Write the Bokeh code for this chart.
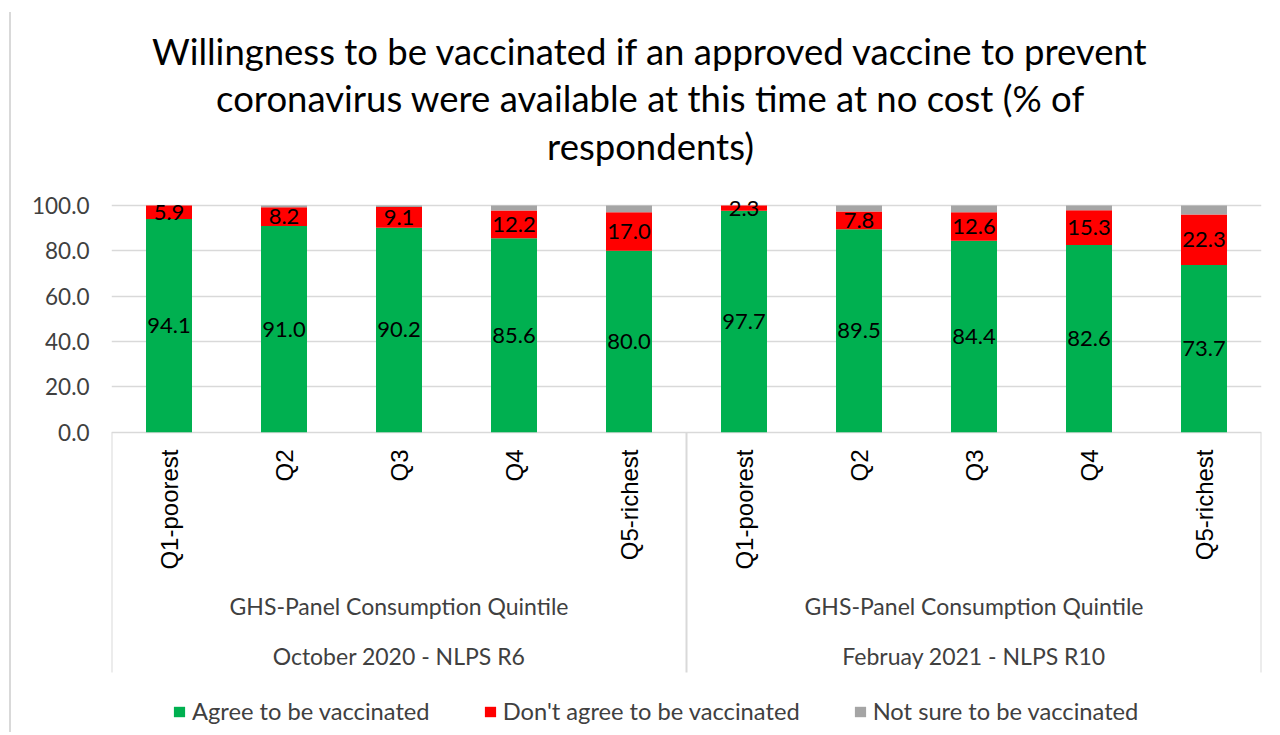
import math
from bokeh.plotting import figure
from bokeh.models import (FactorRange, Range1d, ColumnDataSource, FixedTicker,
                          NumeralTickFormatter, Legend, LegendItem)
from bokeh.core.properties import value
from bokeh.embed import file_html
from bokeh.resources import INLINE

# ---------------- data ----------------
title_lines = ["Willingness to be vaccinated if an approved vaccine to prevent",
               "coronavirus were available at this time at no cost (% of",
               "respondents)"]
rounds = ["October 2020 - NLPS R6", "Februay 2021 - NLPS R10"]
subgroup_label = "GHS-Panel Consumption Quintile"
quintiles = ["Q1-poorest", "Q2", "Q3", "Q4", "Q5-richest"]
series_names = ["Agree to be vaccinated", "Don't agree to be vaccinated",
                "Not sure to be vaccinated"]
agree_r6 = [94.1, 91.0, 90.2, 85.6, 80.0]
disagree_r6 = [5.9, 8.2, 9.1, 12.2, 17.0]
notsure_r6 = [0.0, 0.8, 0.7, 2.2, 3.0]
agree_r10 = [97.7, 89.5, 84.4, 82.6, 73.7]
disagree_r10 = [2.3, 7.8, 12.6, 15.3, 22.3]
notsure_r10 = [0.0, 2.7, 3.0, 2.1, 4.0]
y_ticks = [0, 20, 40, 60, 80, 100]

# ---------------- styling / layout ----------------
colors = ["#00B050", "#FF0000", "#A5A5A5"]
FONT = "Lato"
CAT_FONT = "Liberation Sans"
OX, OY = 11, 12            # page position of the figure canvas
W, H = 1258, 720
FRAME_L, FRAME_R = 111, 1261
PX = 2.267                 # pixels per y unit
Y0 = 431.7                 # page row of y = 0
CAT_W = (FRAME_R - FRAME_L) / 10.0

def yv(py):                # page row -> y data value
    return (Y0 - py) / PX

def xv(px):                # page column -> synthetic x value
    return (px - FRAME_L) / CAT_W

factors = [(r, q) for r in rounds for q in quintiles]
agree = agree_r6 + agree_r10
disagree = disagree_r6 + disagree_r10
notsure = notsure_r6 + notsure_r10

src = ColumnDataSource(dict(x=factors, agree=agree, disagree=disagree, notsure=notsure))

x_range = FactorRange(factors=factors, range_padding=0, group_padding=0,
                      subgroup_padding=0, factor_padding=0)
p = figure(width=W, height=H, x_range=x_range,
           y_range=Range1d(yv(OY + H), yv(OY)),
           output_backend="svg", toolbar_location=None, x_axis_location=None,
           min_border_left=FRAME_L - OX, min_border_right=OX + W - FRAME_R,
           min_border_top=0, min_border_bottom=0)
p.outline_line_color = None
p.background_fill_color = "white"
p.border_fill_color = "white"
p.styles = {"margin-left": "9px", "margin-top": "12px",
            "border-left": "2px solid #d9d9d9"}

# grid / axis
p.xgrid.visible = False
p.ygrid.ticker = FixedTicker(ticks=y_ticks)
p.ygrid.grid_line_color = "#d9d9d9"
p.ygrid.grid_line_width = 1.5
p.yaxis.ticker = FixedTicker(ticks=y_ticks)
p.yaxis.formatter = NumeralTickFormatter(format="0.0")
p.yaxis.axis_line_color = None
p.yaxis.major_tick_line_color = None
p.yaxis.minor_tick_line_color = None
p.yaxis.major_tick_out = 0
p.yaxis.major_tick_in = 0
p.yaxis.major_label_standoff = 22
p.yaxis.major_label_text_font = FONT
p.yaxis.major_label_text_font_size = "22.5px"
p.yaxis.major_label_text_color = "#404040"

# bars
rs = p.vbar_stack(["agree", "disagree", "notsure"], x="x", width=0.4, color=colors,
                  line_color=None, source=src)

# data labels
lab_x, lab_y, lab_t = [], [], []
for f, a, d in zip(factors, agree, disagree):
    lab_x.append(f); lab_y.append(a / 2); lab_t.append(f"{a:.1f}")
    lab_x.append(f); lab_y.append(a + d / 2); lab_t.append(f"{d:.1f}")
p.text(x=lab_x, y=lab_y, text=lab_t, text_align="center", text_baseline="middle",
       text_font=value(FONT), text_font_size="22px", text_color="black")

# category labels (rotated)
p.text(x=factors, y=[yv(449)] * len(factors), text=[q for _, q in factors],
       angle=math.pi / 2, text_align="right", text_baseline="middle",
       text_font=value(CAT_FONT), text_font_size="24px", text_color="black")

# group labels
p.text(x=rounds, y=[yv(605)] * len(rounds), text=[subgroup_label] * len(rounds),
       text_align="center", text_baseline="middle", text_font=value(FONT),
       text_font_size="23px", text_color="#404040")
p.text(x=rounds, y=[yv(655)] * len(rounds), text=rounds,
       text_align="center", text_baseline="middle", text_font=value(FONT),
       text_font_size="23px", text_color="#404040")

# separators of the category axis
sep_x = [0, len(quintiles), len(factors)]
p.segment(x0=sep_x, y0=[0] * 3, x1=sep_x, y1=[yv(672)] * 3,
          line_color="#d9d9d9", line_width=2)

# title
p.text(x=[xv(650)] * 3, y=[yv(50), yv(97), yv(145)], text=title_lines,
       text_align="center", text_baseline="middle", text_font=value(FONT),
       text_font_size="36.5px", text_color="black")

# legend
legend = Legend(items=[LegendItem(label=n, renderers=[r]) for n, r in zip(series_names, rs)],
                orientation="horizontal", location=(172 - FRAME_L, 7))
legend.label_text_font = FONT
legend.label_text_font_size = "23.7px"
legend.label_text_color = "#404040"
legend.glyph_width = 14
legend.glyph_height = 13
legend.label_standoff = 6
legend.spacing = 53
legend.padding = 0
legend.margin = 0
legend.border_line_color = None
legend.background_fill_alpha = 0
p.add_layout(legend)

open("out.html", "w").write(file_html(p, INLINE))
